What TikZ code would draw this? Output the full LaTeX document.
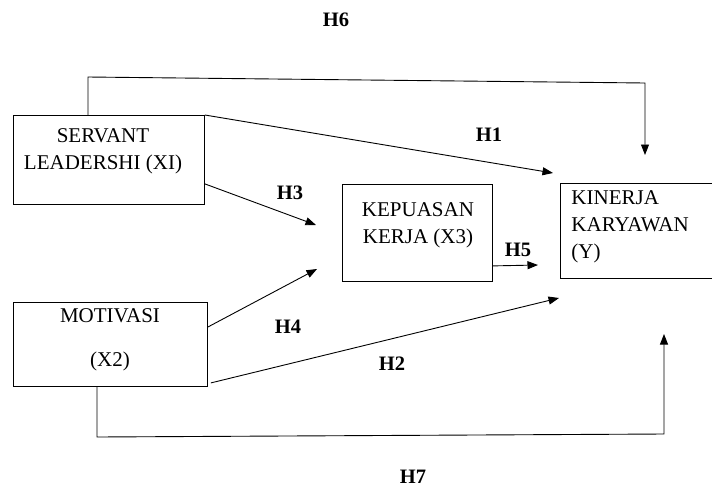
\documentclass[tikz,border=0pt]{standalone}
\usepackage{fontspec}
\setmainfont{Liberation Serif}
\usepackage{tikz}
\usetikzlibrary{arrows.meta,positioning,calc}

\begin{document}
\begin{tikzpicture}[x=1pt,y=-1pt,line width=0.9pt,
  >={Triangle[length=10.5pt,width=8pt]},
  box/.style={draw,minimum width=#1,anchor=north west,inner sep=0pt},
  txt/.style={font=\fontsize{21}{27}\selectfont,align=center,inner sep=0pt},
  hyp/.style={font=\fontsize{20.5}{24}\selectfont\bfseries,inner sep=0pt}]
\useasboundingbox (0,0) rectangle (712,488);

% variabel
\node[box=191pt,minimum height=89pt]  (sl)  at (13,115) {};
\node[box=194pt,minimum height=84pt]  (mot) at (13,302) {};
\node[box=150pt,minimum height=97pt]  (kp)  at (342,184) {};
\node[box=152pt,minimum height=95pt]  (kin) at (560,183) {};

\node[txt] (slText)  at (103,151) {SERVANT\\LEADERSHI (XI)};
\node[txt] (motText) at (110,340) {MOTIVASI\\[17pt](X2)};
\node[txt] (kpText)  at (418,225) {KEPUASAN\\KERJA (X3)};
\node[txt,align=left,anchor=west] (kinText) at (571,227) {KINERJA\\KARYAWAN\\(Y)};

% ujung panah
\coordinate (h1end) at (553,173);
\coordinate (h2end) at (559,298);
\coordinate (h3end) at (316,225);
\coordinate (h4end) at (317,269);
\coordinate (h5end) at (538,265);
\coordinate (h6a) at (88,77);
\coordinate (h6b) at (645,83);
\coordinate (h6end) at (645,155);
\coordinate (h7a) at (97,437);
\coordinate (h7b) at (664,434);
\coordinate (h7end) at (664,334);

\draw [->] (sl.north east) -- (h1end);
\draw [->] ($(sl.south east)+(0,-21)$) -- (h3end);
\draw [->] ($(mot.north east)+(0,25)$) -- (h4end);
\draw [->] ($(mot.south east)+(3,-4)$) -- (h2end);
\draw [->] ($(kp.south east)+(0,-16)$) -- (h5end);
\draw [->] ($(sl.north west)+(75,0)$) -- (h6a) -- (h6b) -- (h6end);
\draw [->] ($(mot.south west)+(84,0)$) -- (h7a) -- (h7b) -- (h7end);

% hipotesis
\node[hyp] (h1) at (489,135) {H1};
\node[hyp] (h2) at (392,364) {H2};
\node[hyp] (h3) at (290,193) {H3};
\node[hyp] (h4) at (288,327) {H4};
\node[hyp] (h5) at (518,250) {H5};
\node[hyp] (h6) at (336,20) {H6};
\node[hyp] (h7) at (413,477) {H7};
\end{tikzpicture}
\end{document}
